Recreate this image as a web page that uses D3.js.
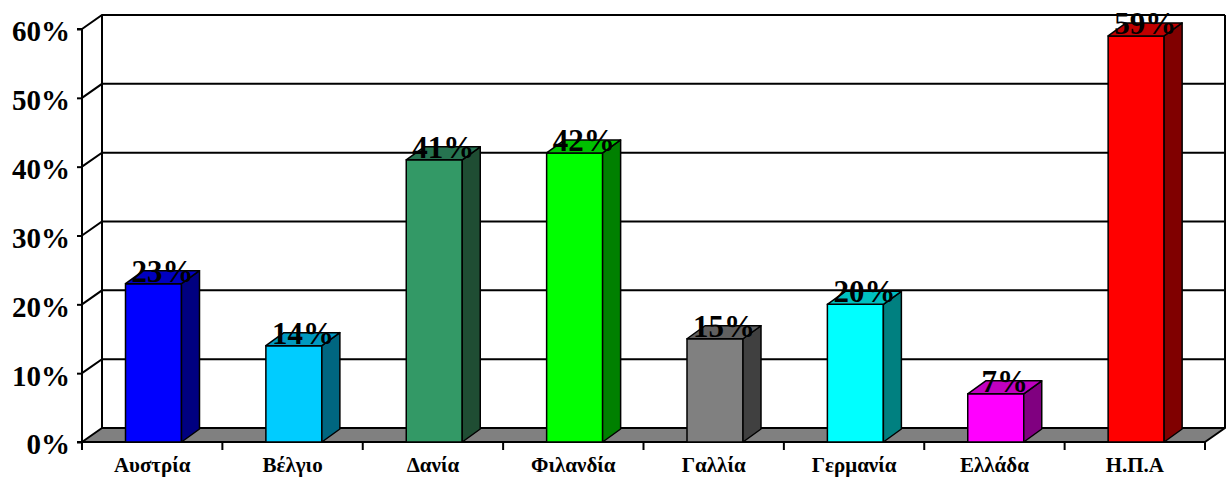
<!DOCTYPE html>
<html>
<head>
<meta charset="utf-8">
<script src="https://cdn.jsdelivr.net/npm/d3@7"></script>
<style>
  html, body { margin: 0; padding: 0; background: #fff; }
  svg { display: block; }
  text { font-family: "Liberation Serif", "Times New Roman", serif; font-weight: bold; }
</style>
</head>
<body>
<svg id="chart" width="1228" height="478"></svg>
<script>
// Country names on the category axis
const categories = ["Αυστρία", "Βέλγιο", "Δανία", "Φιλανδία", "Γαλλία", "Γερμανία", "Ελλάδα", "Η.Π.Α"];
// Share per country (fraction)
const values = [0.23, 0.14, 0.41, 0.42, 0.15, 0.20, 0.07, 0.59];
// Value-axis ticks
const yTicks = [0, 0.1, 0.2, 0.3, 0.4, 0.5, 0.6];
// Front / side / top colours of each column
const frontColors = ["#0000FF", "#00CCFF", "#339966", "#00FF00", "#808080", "#00FFFF", "#FF00FF", "#FF0000"];
const sideColors  = ["#000080", "#006680", "#1F4D33", "#008000", "#404040", "#008080", "#800080", "#800000"];
const topColors   = ["#0000C0", "#0099C0", "#267350", "#00C000", "#606060", "#00C0C0", "#C000C0", "#C00000"];

const svg = d3.select("#chart");
const serif = "'Liberation Serif', 'Times New Roman', serif";

// Plot geometry (front plane) and 3-D depth offset
const x0 = 82, x1 = 1205, yBottom = 442, yTop = 29;
const depthX = 20, depthY = -14;       // wall depth
const barDX = 18, barDY = -13;          // column depth

const x = d3.scaleBand().domain(categories).range([x0, x1]).paddingInner(0).paddingOuter(0);
const y = d3.scaleLinear().domain([0, 0.6]).range([yBottom, yTop]);

const barOffset = 43.5, barWidth = 56;

const g = svg.append("g");

// Back wall gridlines with their diagonals across the left wall
yTicks.filter(v => v > 0).forEach(v => {
  const yy = y(v);
  g.append("polyline")
    .attr("points", [[x0, yy], [x0 + depthX, yy + depthY], [x1 + depthX, yy + depthY]].map(p => p.join(",")).join(" "))
    .attr("fill", "none").attr("stroke", "#000").attr("stroke-width", 2);
});

// Back wall vertical edges
[x0 + depthX, x1 + depthX].forEach(xx => {
  g.append("line")
    .attr("x1", xx).attr("x2", xx)
    .attr("y1", y(0.6) + depthY).attr("y2", y(0) + depthY)
    .attr("stroke", "#000").attr("stroke-width", 2);
});

// Floor
g.append("polygon")
  .attr("points", [[x0, yBottom], [x1, yBottom], [x1 + depthX, yBottom + depthY], [x0 + depthX, yBottom + depthY]].map(p => p.join(",")).join(" "))
  .attr("fill", "#808080").attr("stroke", "#000").attr("stroke-width", 2).attr("stroke-linejoin", "round");

// Value axis
const yAxis = d3.axisLeft(y).tickValues(yTicks).tickFormat(d3.format(".0%")).tickSize(5).tickPadding(7);
const yAxisG = svg.append("g").attr("transform", `translate(${x0},0)`).call(yAxis);
yAxisG.select(".domain").attr("stroke-width", 2).attr("d", `M-5,${yTop}H0V${yBottom}H-5`);
yAxisG.selectAll(".tick line").attr("stroke-width", 2);
yAxisG.selectAll("text")
  .attr("font-size", 29).attr("font-weight", "bold").attr("fill", "#000")
  .attr("font-family", serif)
  .attr("dy", "0.41em");

// Category axis: boundary ticks plus centred labels
const boundaries = categories.map(c => x(c)).concat([x1]);
svg.append("g").selectAll("line").data(boundaries).join("line")
  .attr("x1", d => d).attr("x2", d => d)
  .attr("y1", yBottom).attr("y2", yBottom + 8)
  .attr("stroke", "#000").attr("stroke-width", 2);

const xAxis = d3.axisBottom(x).tickSize(0).tickPadding(0);
const xAxisG = svg.append("g").attr("transform", `translate(0,${yBottom})`).call(xAxis);
xAxisG.select(".domain").remove();
xAxisG.selectAll("text")
  .attr("font-size", 21).attr("font-weight", "bold").attr("fill", "#000")
  .attr("font-family", serif)
  .attr("y", 30).attr("dy", 0);

// Columns
const bars = svg.append("g").selectAll("g").data(values).join("g");
bars.each(function (v, i) {
  const gb = d3.select(this);
  const left = x(categories[i]) + barOffset;
  const right = left + barWidth;
  const top = y(v), base = y(0);
  const pts = a => a.map(p => p.join(",")).join(" ");
  gb.append("polygon")
    .attr("points", pts([[left, top], [right, top], [right, base], [left, base]]))
    .attr("fill", frontColors[i]).attr("stroke", "#000").attr("stroke-width", 1.5).attr("stroke-linejoin", "round");
  gb.append("polygon")
    .attr("points", pts([[right, top], [right + barDX, top + barDY], [right + barDX, base + barDY], [right, base]]))
    .attr("fill", sideColors[i]).attr("stroke", "#000").attr("stroke-width", 1.5).attr("stroke-linejoin", "round");
  gb.append("polygon")
    .attr("points", pts([[left, top], [left + barDX, top + barDY], [right + barDX, top + barDY], [right, top]]))
    .attr("fill", topColors[i]).attr("stroke", "#000").attr("stroke-width", 1.5).attr("stroke-linejoin", "round");
});

// Value labels above the columns
svg.append("g").selectAll("text").data(values).join("text")
  .attr("x", (v, i) => x(categories[i]) + barOffset + barWidth / 2 + barDX / 2)
  .attr("y", v => y(v) - 2)
  .attr("text-anchor", "middle")
  .attr("font-size", 31)
  .attr("font-family", serif)
  .attr("fill", "#000")
  .text(v => d3.format(".0%")(v));
</script>
</body>
</html>
